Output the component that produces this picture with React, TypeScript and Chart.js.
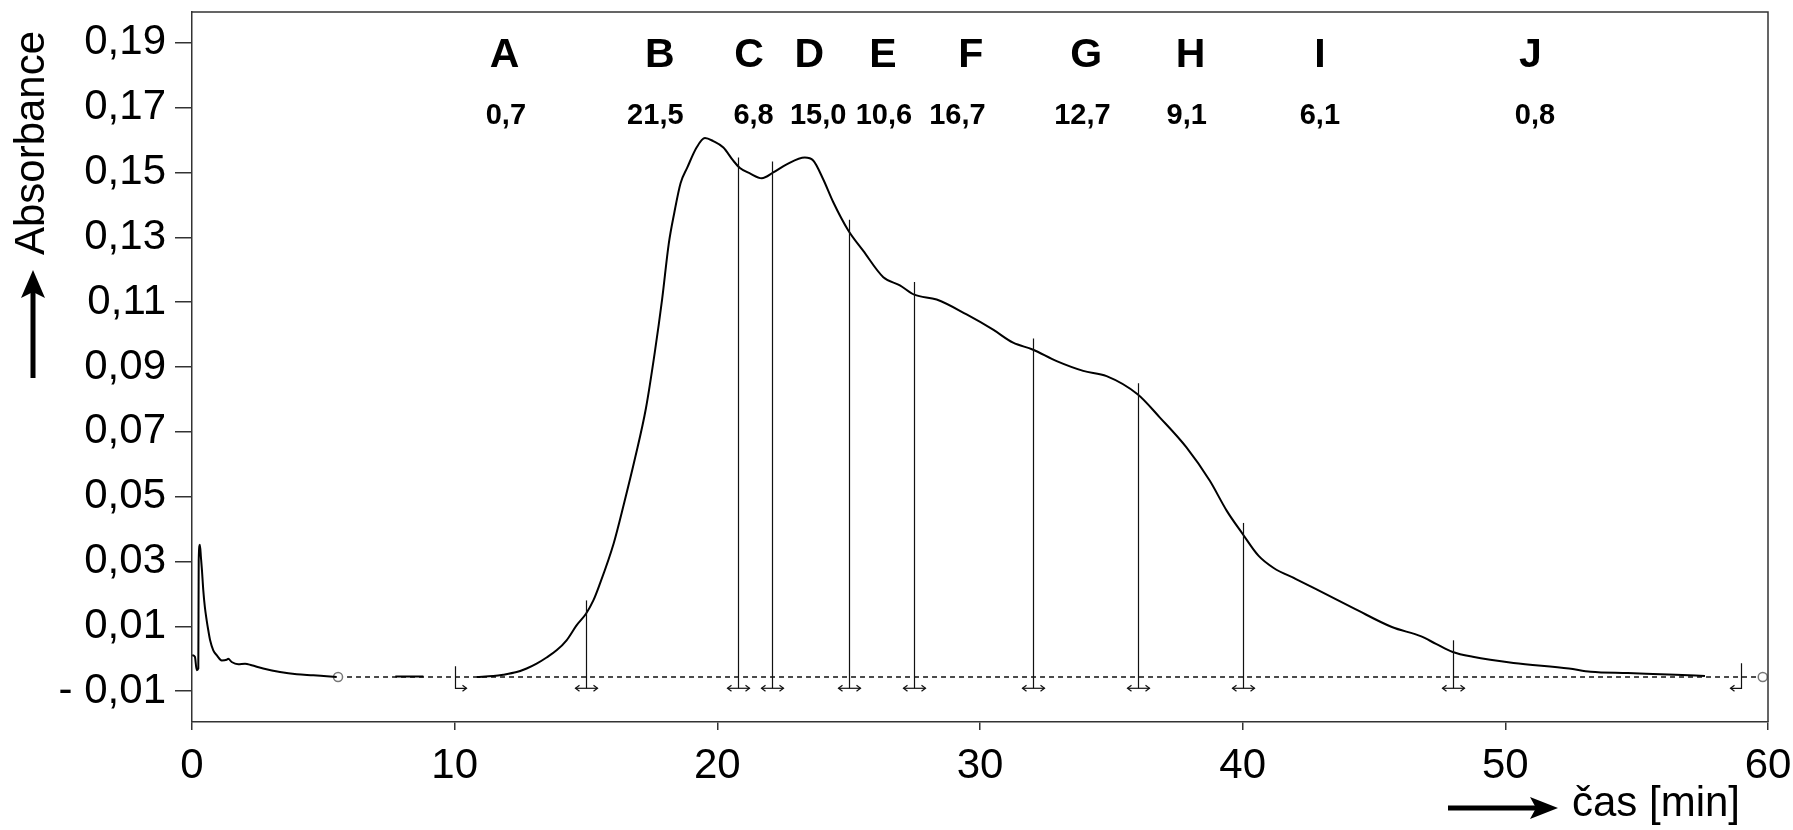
import React, { useEffect, useRef } from "react";
import { Chart, registerables } from "chart.js";

Chart.register(...registerables);

// ---- data ----
const timeMin: number[] = [
  0.01, 0.11, 0.18, 0.24, 0.255, 0.3, 0.34, 0.38, 0.43, 0.49, 0.56, 0.62, 0.69, 0.81, 0.94,
  1.13, 1.32, 1.38, 1.51, 1.76, 2.02, 2.27, 2.71, 3.35, 3.99, 4.62, 5.13, 5.51,
  6.5,
  7.74, 8.81,
  9.8,
  10.84, 11.47, 11.85, 12.36, 12.74, 13.12, 13.5, 13.88, 14.26, 14.64, 15.0, 15.28, 15.5,
  16.05, 16.45, 16.87, 17.28, 17.62, 17.9, 18.15, 18.36, 18.6, 18.85, 19.21, 19.53, 19.84,
  20.23, 20.6, 20.86, 21.24, 21.69, 22.13, 22.64, 23.33, 23.65, 24.03, 24.41, 24.98, 25.55,
  26.32, 26.95, 27.5, 28.35, 29.49, 30.5, 31.26, 32.0, 32.92, 33.93, 34.82, 36.0, 36.85,
  37.86, 38.75, 39.39, 40.0, 40.6, 41.18, 42.03, 43.15, 44.27, 45.68, 46.8, 47.36, 48.0,
  48.76, 50.31, 52.42, 53.25, 54.66, 56.49, 57.6,
];
const absorbance: (number | null)[] = [
  0.0011, 0.0006, -0.0035, -0.003, 0.0303, 0.0352, 0.0313, 0.0272, 0.0211, 0.0159, 0.0118, 0.0088, 0.0057, 0.0026, 0.0011,
  -0.0005, -0.0003, 0.0, -0.001, -0.0017, -0.0015, -0.002, -0.003, -0.0041, -0.0048, -0.0051, -0.0054, -0.0056,
  null,
  -0.0055, -0.0055,
  null,
  -0.0056, -0.0053, -0.0049, -0.0041, -0.003, -0.0015, 0.0004, 0.0026, 0.0057, 0.0103, 0.0139, 0.018, 0.0225,
  0.0355, 0.048, 0.062, 0.0772, 0.0946, 0.111, 0.128, 0.1375, 0.1467, 0.1514, 0.1577, 0.1606, 0.1597,
  0.1577, 0.1537, 0.1514, 0.1497, 0.1482, 0.15, 0.1525, 0.1546, 0.1537, 0.1479, 0.1409, 0.1322, 0.1259,
  0.1177, 0.1152, 0.1123, 0.1108, 0.1062, 0.1015, 0.0975, 0.0954, 0.0918, 0.0888, 0.0872, 0.0816, 0.0744,
  0.0652, 0.0549, 0.0457, 0.0385, 0.0318, 0.028, 0.0246, 0.02, 0.0154, 0.0098, 0.0069, 0.0046, 0.0021,
  0.0006, -0.0013, -0.003, -0.004, -0.0044, -0.0049, -0.0053,
];

const baselineTimes: number[] = [5.56, 59.8];
const baselineValue = -0.0056;

const dividerTimes: number[] = [15, 20.8, 22.1, 25, 27.5, 32, 36, 40, 48];
const dividerTops: number[] = [0.018, 0.1546, 0.1534, 0.1354, 0.1162, 0.0988, 0.085, 0.0419, 0.0057];
const integrationStart = { time: 10, top: -0.0023 };
const integrationEnd = { time: 58.97, top: -0.0014 };
const markerLevel = -0.0091;

const fractionLetters: string[] = ["A", "B", "C", "D", "E", "F", "G", "H", "I", "J"];
const fractionLetterTimes: number[] = [11.9, 17.81, 21.21, 23.5, 26.3, 29.65, 34.04, 38.02, 42.94, 50.95];
const fractionAreas: string[] = ["0,7", "21,5", "6,8", "15,0", "10,6", "16,7", "12,7", "9,1", "6,1", "0,8"];
const fractionAreaTimes: number[] = [11.95, 17.64, 21.38, 23.84, 26.34, 29.14, 33.9, 37.87, 42.94, 51.13];
const letterRowValue = 0.1826;
const areaRowValue = 0.1651;

const xTickValues: number[] = [0, 10, 20, 30, 40, 50, 60];
const xTickLabels: string[] = ["0", "10", "20", "30", "40", "50", "60"];
const yTickValues: number[] = [-0.01, 0.01, 0.03, 0.05, 0.07, 0.09, 0.11, 0.13, 0.15, 0.17, 0.19];
const yTickLabels: string[] = ["- 0,01", "0,01", "0,03", "0,05", "0,07", "0,09", "0,11", "0,13", "0,15", "0,17", "0,19"];

const yTitle = "Absorbance";
const xTitle = "čas [min]";

const FONT = "'Liberation Sans', Arial, sans-serif";
const AXIS_COLOR = "#333";

function chevron(ctx: CanvasRenderingContext2D, x: number, y: number, dir: number, len: number, half: number) {
  ctx.beginPath();
  ctx.moveTo(x - dir * len, y - half);
  ctx.lineTo(x, y);
  ctx.lineTo(x - dir * len, y + half);
  ctx.stroke();
}

const annotationPlugin = {
  id: "annotations",
  afterDatasetsDraw(chart: any) {
    const { ctx, chartArea: a } = chart;
    const xs = chart.scales.x;
    const ys = chart.scales.y;
    ctx.save();

    // frame (top + right)
    ctx.strokeStyle = AXIS_COLOR;
    ctx.lineWidth = 1.5;
    ctx.beginPath();
    ctx.moveTo(a.left, a.top);
    ctx.lineTo(a.right, a.top);
    ctx.lineTo(a.right, a.bottom);
    ctx.stroke();

    // dividers with double arrows
    ctx.strokeStyle = "#111";
    ctx.lineWidth = 1.2;
    const yArrow = ys.getPixelForValue(markerLevel);
    dividerTimes.forEach((t, i) => {
      const x = Math.round(xs.getPixelForValue(t)) + 0.5;
      const yTop = ys.getPixelForValue(dividerTops[i]);
      ctx.beginPath();
      ctx.moveTo(x, yTop);
      ctx.lineTo(x, yArrow);
      ctx.stroke();
      ctx.beginPath();
      ctx.moveTo(x - 11, yArrow);
      ctx.lineTo(x + 11, yArrow);
      ctx.stroke();
      chevron(ctx, x + 11, yArrow, 1, 4, 3);
      chevron(ctx, x - 11, yArrow, -1, 4, 3);
    });

    // integration start marker
    {
      const x = Math.round(xs.getPixelForValue(integrationStart.time)) + 0.5;
      const yTop = ys.getPixelForValue(integrationStart.top);
      ctx.beginPath();
      ctx.moveTo(x, yTop);
      ctx.lineTo(x, yArrow);
      ctx.lineTo(x + 11, yArrow);
      ctx.stroke();
      chevron(ctx, x + 11, yArrow, 1, 4, 3);
    }
    // integration end marker
    {
      const x = Math.round(xs.getPixelForValue(integrationEnd.time)) + 0.5;
      const yTop = ys.getPixelForValue(integrationEnd.top);
      ctx.beginPath();
      ctx.moveTo(x, yTop);
      ctx.lineTo(x, yArrow);
      ctx.lineTo(x - 11, yArrow);
      ctx.stroke();
      chevron(ctx, x - 11, yArrow, -1, 4, 3);
    }

    // fraction letters and areas
    ctx.fillStyle = "#000";
    ctx.textAlign = "center";
    ctx.textBaseline = "alphabetic";
    ctx.font = `bold 41px ${FONT}`;
    fractionLetters.forEach((s, i) => {
      ctx.fillText(s, xs.getPixelForValue(fractionLetterTimes[i]), ys.getPixelForValue(letterRowValue));
    });
    ctx.font = `bold 29px ${FONT}`;
    fractionAreas.forEach((s, i) => {
      ctx.fillText(s, xs.getPixelForValue(fractionAreaTimes[i]), ys.getPixelForValue(areaRowValue));
    });

    // y title + up arrow
    ctx.fillStyle = "#000";
    ctx.font = `42px ${FONT}`;
    ctx.save();
    ctx.translate(44, 143);
    ctx.rotate(-Math.PI / 2);
    ctx.textAlign = "center";
    ctx.textBaseline = "alphabetic";
    ctx.fillText(yTitle, 0, 0);
    ctx.restore();
    ctx.strokeStyle = "#000";
    ctx.lineWidth = 5;
    ctx.beginPath();
    ctx.moveTo(33, 378);
    ctx.lineTo(33, 292);
    ctx.stroke();
    ctx.beginPath();
    ctx.moveTo(33, 270);
    ctx.lineTo(21, 298);
    ctx.lineTo(33, 292);
    ctx.lineTo(45, 298);
    ctx.closePath();
    ctx.fill();

    // x title + right arrow
    ctx.beginPath();
    ctx.moveTo(1448, 808);
    ctx.lineTo(1536, 808);
    ctx.stroke();
    ctx.beginPath();
    ctx.moveTo(1558, 808);
    ctx.lineTo(1530, 797);
    ctx.lineTo(1536, 808);
    ctx.lineTo(1530, 819);
    ctx.closePath();
    ctx.fill();
    ctx.textAlign = "left";
    ctx.font = `42px ${FONT}`;
    ctx.fillText(xTitle, 1572, 816);

    ctx.restore();
  },
};

export default function App() {
  const ref = useRef<HTMLCanvasElement>(null);
  useEffect(() => {
    document.body.style.margin = "0";
    const curve = timeMin.map((t, i) => ({ x: t, y: absorbance[i] }));
    const baseline = baselineTimes.map((t) => ({ x: t, y: baselineValue }));
    const chart = new Chart(ref.current as HTMLCanvasElement, {
      type: "scatter",
      data: {
        datasets: [
          {
            label: "absorbance",
            data: curve as any,
            showLine: true,
            borderColor: "#000",
            borderWidth: 2,
            pointRadius: 0,
            spanGaps: false,
            cubicInterpolationMode: "monotone",
          },
          {
            label: "baseline",
            data: baseline,
            showLine: true,
            borderColor: "#111",
            borderWidth: 1.5,
            borderDash: [5, 4],
            pointRadius: 4.5,
            pointBackgroundColor: "#fff",
            pointBorderColor: "#777",
            pointBorderWidth: 1.5,
          },
        ],
      },
      options: {
        responsive: false,
        animation: false,
        devicePixelRatio: 1,
        layout: { padding: { top: 12, right: 25, left: 0, bottom: 0 } },
        plugins: { legend: { display: false }, tooltip: { enabled: false } },
        scales: {
          x: {
            type: "linear",
            min: 0,
            max: 60,
            afterBuildTicks: (s: any) => {
              s.ticks = xTickValues.map((v) => ({ value: v }));
            },
            afterFit: (s: any) => {
              s.height = 108;
              s.paddingLeft = 0;
              s.paddingRight = 0;
              s.paddingTop = 0;
              s.paddingBottom = 0;
            },
            ticks: {
              autoSkip: false,
              maxRotation: 0,
              padding: 11,
              color: "#000",
              font: { size: 42, family: FONT },
              callback: (v: any) => {
                const i = xTickValues.findIndex((t) => Math.abs(t - Number(v)) < 1e-9);
                return i >= 0 ? xTickLabels[i] : "";
              },
            },
            grid: { drawOnChartArea: false, drawTicks: true, tickLength: 8, color: AXIS_COLOR, lineWidth: 1.5 },
            border: { display: true, color: AXIS_COLOR, width: 1.5 },
          },
          y: {
            type: "linear",
            min: -0.0195,
            max: 0.1995,
            afterBuildTicks: (s: any) => {
              s.ticks = yTickValues.map((v) => ({ value: v }));
            },
            afterFit: (s: any) => {
              s.width = 192;
              s.paddingLeft = 0;
              s.paddingRight = 0;
              s.paddingTop = 0;
              s.paddingBottom = 0;
            },
            ticks: {
              autoSkip: false,
              padding: 9,
              color: "#000",
              font: { size: 42, family: FONT },
              callback: (v: any) => {
                const i = yTickValues.findIndex((t) => Math.abs(t - Number(v)) < 1e-9);
                return i >= 0 ? yTickLabels[i] : "";
              },
            },
            grid: { drawOnChartArea: false, drawTicks: true, tickLength: 17, color: AXIS_COLOR, lineWidth: 1.5 },
            border: { display: true, color: AXIS_COLOR, width: 1.5 },
          },
        },
      },
      plugins: [annotationPlugin],
    });
    return () => chart.destroy();
  }, []);
  return (
    <canvas
      ref={ref}
      width={1793}
      height={830}
      style={{ display: "block", width: 1793, height: 830 }}
    />
  );
}
